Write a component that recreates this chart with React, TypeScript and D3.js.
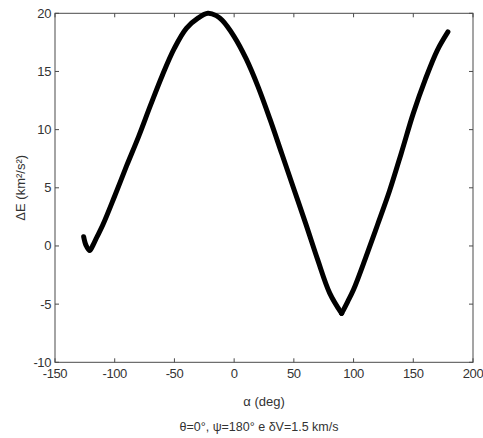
import React from "react";
import * as d3 from "d3";

const alphaDeg = [-126, -124, -121, -118, -115, -110, -100, -90, -80, -70, -60, -50, -40, -30, -22, -15, -10, 0, 10, 20, 30, 40, 50, 60, 70, 80, 90, 95, 100, 110, 120, 130, 140, 150, 160, 170, 179];
const deltaE = [0.8, 0.05, -0.4, 0.1, 0.75, 1.8, 4.3, 6.9, 9.4, 12.1, 14.7, 17.0, 18.7, 19.6, 20.0, 19.8, 19.4, 18.0, 16.1, 13.7, 10.9, 7.9, 4.9, 1.9, -1.2, -4.05, -5.8, -4.8, -3.75, -1.05, 1.8, 4.7, 8.0, 11.4, 14.3, 16.8, 18.4];
const xTicks = [-150, -100, -50, 0, 50, 100, 150, 200];
const yTicks = [-10, -5, 0, 5, 10, 15, 20];

const W = 483;
const H = 438;
const L = 55, R = 473, T = 13.3, B = 362.3;
const FONT = "'Liberation Sans', Arial, Helvetica, sans-serif";
const TXT = "#333";
const AX = "#4a4a4a";

export default function App() {
  const x = d3.scaleLinear().domain([-150, 200]).range([L, R]);
  const y = d3.scaleLinear().domain([-10, 20]).range([B, T]);
  const pts = alphaDeg.map((a, i) => [a, deltaE[i]] as [number, number]);
  // split at the sharp minimum so the V keeps its point
  let vIdx = 0;
  pts.forEach((p, i) => {
    if (p[0] > 0 && p[1] < pts[vIdx][1]) vIdx = i;
  });
  const seg1 = pts.slice(0, vIdx + 1);
  const seg2 = pts.slice(vIdx);
  const line = d3
    .line<[number, number]>()
    .x((d) => x(d[0]))
    .y((d) => y(d[1]))
    .curve(d3.curveCatmullRom.alpha(0.5));
  const tl = 4;
  return (
    <svg width={W} height={H} style={{ position: "absolute", left: 0, top: 0, background: "#fff" }}>
      <rect x={0} y={0} width={W} height={H} fill="#fff" />
      <rect x={L} y={T} width={R - L} height={B - T} fill="none" stroke={AX} strokeWidth={1} />
      {xTicks.map((t) => (
        <g key={"x" + t}>
          <line x1={x(t)} x2={x(t)} y1={B} y2={B - tl} stroke={AX} />
          <line x1={x(t)} x2={x(t)} y1={T} y2={T + tl} stroke={AX} />
          <text x={x(t)} y={378} textAnchor="middle" fontFamily={FONT} fontSize={13} fill={TXT} letterSpacing={-0.4}>
            {t}
          </text>
        </g>
      ))}
      {yTicks.map((t) => (
        <g key={"y" + t}>
          <line x1={L} x2={L + tl} y1={y(t)} y2={y(t)} stroke={AX} />
          <line x1={R} x2={R - tl} y1={y(t)} y2={y(t)} stroke={AX} />
          <text x={51} y={y(t) + 4.5} textAnchor="end" fontFamily={FONT} fontSize={13} fill={TXT} letterSpacing={-0.4}>
            {t}
          </text>
        </g>
      ))}
      <path d={line(seg1) || ""} fill="none" stroke="#000" strokeWidth={5} strokeLinejoin="round" strokeLinecap="round" />
      <path d={line(seg2) || ""} fill="none" stroke="#000" strokeWidth={5} strokeLinejoin="round" strokeLinecap="round" />
      <text x={264} y={406} textAnchor="middle" fontFamily={FONT} fontSize={13} fill={TXT}>
        α (deg)
      </text>
      <text x={259} y={431} textAnchor="middle" fontFamily={FONT} fontSize={12.5} fill={TXT}>
        θ=0°, ψ=180° e δV=1.5 km/s
      </text>
      <text
        transform={`translate(24.5, ${(T + B) / 2}) rotate(-90)`}
        textAnchor="middle"
        fontFamily={FONT}
        fontSize={13}
        fill={TXT}
      >
        ΔE (km²/s²)
      </text>
    </svg>
  );
}
